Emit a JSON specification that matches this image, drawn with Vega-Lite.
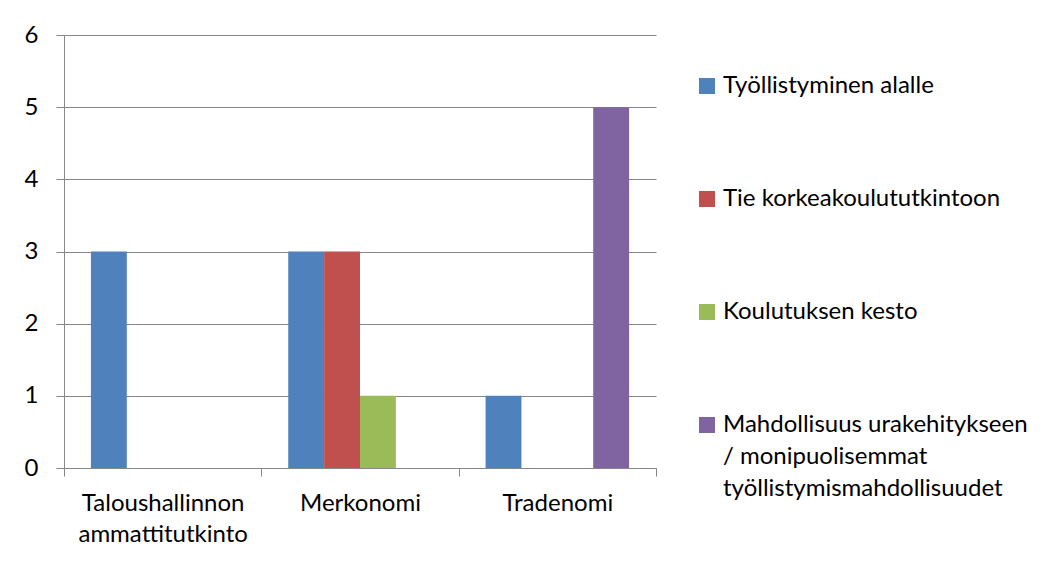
{
  "$schema": "https://vega.github.io/schema/vega-lite/v6.json",
  "autosize": {"type": "none"},
  "padding": {"left": 64, "top": 35, "right": 396, "bottom": 95},
  "width": 592,
  "height": 433,
  "background": "white",
  "config": {
    "view": {"stroke": null},
    "font": "Lato",
    "axis": {"labelFont": "Lato", "labelColor": "#000000"},
    "legend": {"labelFont": "Lato", "labelColor": "#000000"}
  },
  "data": {
    "values": [
      {"tutkinto": "Taloushallinnon ammattitutkinto", "syy": "Työllistyminen alalle", "arvo": 3},
      {"tutkinto": "Merkonomi", "syy": "Työllistyminen alalle", "arvo": 3},
      {"tutkinto": "Merkonomi", "syy": "Tie korkeakoulututkintoon", "arvo": 3},
      {"tutkinto": "Merkonomi", "syy": "Koulutuksen kesto", "arvo": 1},
      {"tutkinto": "Tradenomi", "syy": "Työllistyminen alalle", "arvo": 1},
      {"tutkinto": "Tradenomi", "syy": "Mahdollisuus urakehitykseen / monipuolisemmat työllistymismahdollisuudet", "arvo": 5}
    ]
  },
  "mark": {"type": "bar"},
  "encoding": {
    "x": {
      "field": "tutkinto",
      "type": "nominal",
      "sort": ["Taloushallinnon ammattitutkinto", "Merkonomi", "Tradenomi"],
      "scale": {"paddingInner": 0, "paddingOuter": 0},
      "axis": {
        "title": null,
        "labelAngle": 0,
        "labelFontSize": 24,
        "labelExpr": "split(datum.label, ' ')",
        "labelLineHeight": 31,
        "labelPadding": 15,
        "tickBand": "extent",
        "tickSize": 8,
        "tickColor": "#878787",
        "domainColor": "#878787",
        "grid": false,
        "labelLimit": 400
      }
    },
    "xOffset": {
      "field": "syy",
      "type": "nominal",
      "scale": {
        "domain": ["Työllistyminen alalle", "Tie korkeakoulututkintoon", "Koulutuksen kesto", "Mahdollisuus urakehitykseen / monipuolisemmat työllistymismahdollisuudet"],
        "paddingInner": 0,
        "paddingOuter": 0.75
      }
    },
    "y": {
      "field": "arvo",
      "type": "quantitative",
      "scale": {"domain": [0, 6], "nice": false},
      "axis": {
        "title": null,
        "values": [0, 1, 2, 3, 4, 5, 6],
        "labelFontSize": 24,
        "labelPadding": 18,
        "tickSize": 8,
        "tickColor": "#878787",
        "domainColor": "#878787",
        "gridColor": "#878787",
        "gridOpacity": 1,
        "grid": true
      }
    },
    "color": {
      "field": "syy",
      "type": "nominal",
      "scale": {
        "domain": ["Työllistyminen alalle", "Tie korkeakoulututkintoon", "Koulutuksen kesto", "Mahdollisuus urakehitykseen / monipuolisemmat työllistymismahdollisuudet"],
        "range": ["#4F81BD", "#C0504D", "#9BBB59", "#8064A2"]
      },
      "legend": {
        "title": null,
        "orient": "none",
        "legendX": 631,
        "legendY": 39,
        "padding": 0,
        "symbolType": "square",
        "symbolSize": 256,
        "symbolStrokeWidth": 0,
        "symbolOpacity": 1,
        "labelFontSize": 24,
        "labelOffset": 4,
        "labelLimit": 400,
        "rowPadding": 89,
        "labelExpr": "datum.label == 'Mahdollisuus urakehitykseen / monipuolisemmat työllistymismahdollisuudet' ? ['Mahdollisuus urakehitykseen', '/ monipuolisemmat', 'työllistymismahdollisuudet'] : datum.label",
        "encode": {
          "labels": {"update": {"lineHeight": {"value": 32}}}
        }
      }
    }
  }
}
